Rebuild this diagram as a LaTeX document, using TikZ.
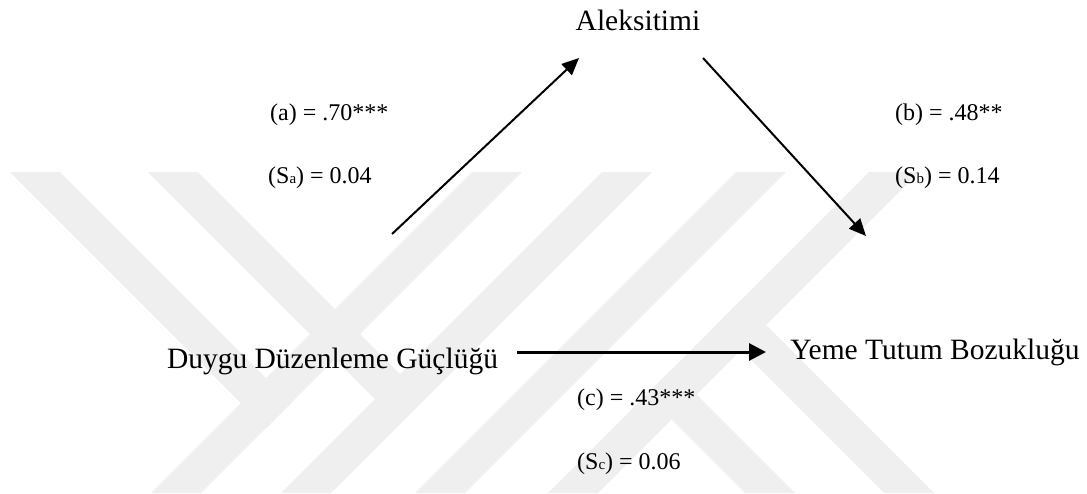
\documentclass[tikz,border=0pt]{standalone}
\usepackage{fontspec}
\setmainfont{Liberation Serif}
\usetikzlibrary{arrows.meta}
\definecolor{wm}{RGB}{239,239,239}
\tikzset{
  mainlabel/.style={font=\fontsize{29.5}{30}\selectfont, inner sep=0pt, anchor=base},
  coef/.style={font=\fontsize{24}{24}\selectfont, inner sep=0pt, anchor=base west},
  patharrow/.style={line width=2pt, -{Triangle[length=17pt,width=15pt]}},
  directarrow/.style={line width=3pt, -{Triangle[length=17pt,width=17pt]}},
  wmark/.style={fill=wm, draw=none}
}
\newcommand{\smallsub}[1]{{\fontsize{15}{15}\selectfont #1}}
\begin{document}
\begin{tikzpicture}[x=1pt,y=-1pt]
\useasboundingbox (0,0) rectangle (1087,493);
% watermark bands
\fill[wmark] (10,172) -- (60,172) -- (291,403) -- (266,428) -- cycle;
\fill[wmark] (472,172) -- (522,172) -- (201,493) -- (151,493) -- cycle;
\fill[wmark] (148,172) -- (198,172) -- (424,398) -- (399,423) -- cycle;
\fill[wmark] (602,172) -- (652,172) -- (331,493) -- (281,493) -- cycle;
\fill[wmark] (736,172) -- (786,172) -- (465,493) -- (415,493) -- cycle;
\fill[wmark] (869,172) -- (919,172) -- (598,493) -- (548,493) -- cycle;
\fill[wmark] (741,300) -- (934,493) -- (884,493) -- (716,325) -- cycle;
\fill[wmark] (671.5,369.5) -- (795,493) -- (745,493) -- (646.5,394.5) -- cycle;
% variables
\node[mainlabel] (alx) at (638,30) {Aleksitimi};
\node[mainlabel] (ddg) at (332.5,368) {Duygu Düzenleme Güçlüğü};
\node[mainlabel] (ytb) at (935,359) {Yeme Tutum Bozukluğu};
% coefficients
\node[coef] (ca) at (270,120) {(a) = .70***};
\node[coef] (sa) at (268,183) {(S\smallsub{a}) = 0.04};
\node[coef] (cb) at (895,120) {(b) = .48**};
\node[coef] (sb) at (895,183) {(S\smallsub{b}) = 0.14};
\node[coef] (cc) at (577,405) {(c) = .43***};
\node[coef] (sc) at (577,469) {(S\smallsub{c}) = 0.06};
% arrow ends
\coordinate (astart) at (392,234);
\coordinate (aend) at (579,58);
\coordinate (bstart) at (703,58);
\coordinate (bend) at (866,236);
\coordinate (cstart) at (517,352);
\coordinate (cend) at (766,352);
\draw[patharrow] (astart) -- (aend);
\draw[patharrow] (bstart) -- (bend);
\draw[directarrow] (cstart) -- (cend);
\end{tikzpicture}
\end{document}
